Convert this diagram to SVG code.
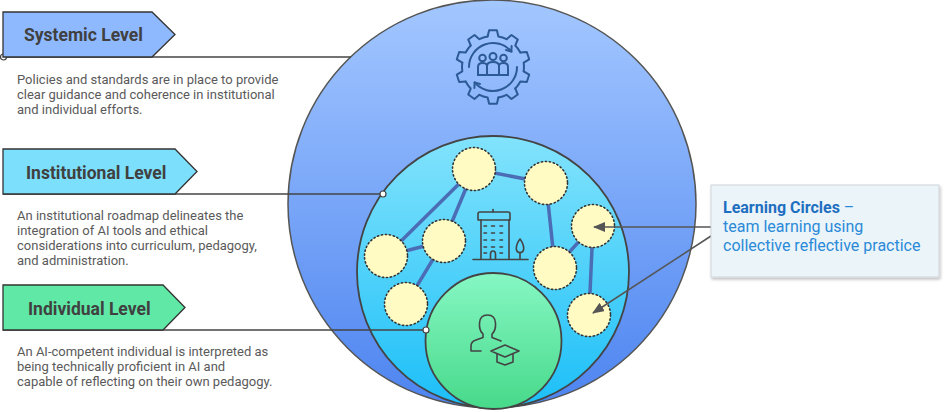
<svg xmlns="http://www.w3.org/2000/svg" xmlns:xlink="http://www.w3.org/1999/xlink" width="947" height="412" viewBox="0 0 947 412">
<defs>
<linearGradient id="gBig" x1="0" y1="0" x2="0" y2="1"><stop offset="0" stop-color="#a3c7ff"/><stop offset="1" stop-color="#4d84f0"/></linearGradient>
<linearGradient id="gMid" x1="0" y1="0" x2="0" y2="1"><stop offset="0" stop-color="#82e3fc"/><stop offset="1" stop-color="#1cbff8"/></linearGradient>
<linearGradient id="gIn" x1="0" y1="0" x2="0" y2="1"><stop offset="0" stop-color="#86f7c3"/><stop offset="1" stop-color="#47d98a"/></linearGradient>
<filter id="sh" x="-10%" y="-10%" width="125%" height="130%"><feDropShadow dx="1" dy="2" stdDeviation="1.5" flood-color="#000" flood-opacity="0.25"/></filter>
<marker id="ah" markerWidth="12" markerHeight="10" refX="11" refY="5" orient="auto" markerUnits="userSpaceOnUse"><path d="M0,0 L12,5 L0,10 Z" fill="#555"/></marker>
<path id="tooth" d="M-5.38,-30.53 L-3.87,-36.8 L3.87,-36.8 L5.38,-30.53 A31,31 0 0 1 13.59,-27.86"/>
</defs>
<style>
.ttl{font-family:Roboto,"Liberation Sans",sans-serif;font-weight:700;font-size:17.5px;fill:#404040}
.dsc{font-family:Roboto,"Liberation Sans",sans-serif;font-size:13px;fill:#5a5a5a}
.lbl{stroke:#333;stroke-width:1.3}
.lead{stroke:#444;stroke-width:1.3;fill:none}
.dot{fill:#fff;stroke:#444;stroke-width:1.2}
.link{stroke:#4b6db5;stroke-width:3.5;stroke-linecap:round}
.lc{fill:#fffbc2;stroke:#333;stroke-width:1.6;stroke-dasharray:1.2 2.8;stroke-linecap:round}
.ico{fill:none;stroke:#444;stroke-width:1.6;stroke-linecap:round;stroke-linejoin:round}
.gear{fill:none;stroke:#2c5a96;stroke-width:2;stroke-linecap:round;stroke-linejoin:round}
.box{font-family:Roboto,"Liberation Sans",sans-serif;font-size:16px;fill:#2a8ad8}
</style>

<g id="systemic-circle">
<circle cx="492" cy="204" r="204" fill="url(#gBig)" stroke="#555" stroke-width="1.5"/>
<g class="gear" transform="translate(493,67)">
<use xlink:href="#tooth"/>
<use xlink:href="#tooth" transform="rotate(36)"/>
<use xlink:href="#tooth" transform="rotate(72)"/>
<use xlink:href="#tooth" transform="rotate(108)"/>
<use xlink:href="#tooth" transform="rotate(144)"/>
<use xlink:href="#tooth" transform="rotate(180)"/>
<use xlink:href="#tooth" transform="rotate(216)"/>
<use xlink:href="#tooth" transform="rotate(252)"/>
<use xlink:href="#tooth" transform="rotate(288)"/>
<use xlink:href="#tooth" transform="rotate(324)"/>
<path d="M-24,0 A24,24 0 0 1 18.4,-15.4"/>
<path d="M13,-17 L18.4,-15.4 L18.6,-21"/>
<path d="M24,0 A24,24 0 0 1 -18.4,15.4"/>
<path d="M-13,17 L-18.4,15.4 L-18.6,21"/>
<circle cx="-10.5" cy="-9" r="3.3"/>
<circle cx="0" cy="-10.5" r="3.5"/>
<circle cx="10.5" cy="-9" r="3.3"/>
<path d="M-15,8 V0 Q-15,-4 -10.5,-4 Q-7,-4 -6,-2"/>
<path d="M15,8 V0 Q15,-4 10.5,-4 Q7,-4 6,-2"/>
<path d="M-6,8 V-1 Q-6,-5 0,-5 Q6,-5 6,-1 V8 Z"/>
<path d="M-15,8 H15"/>
</g>
</g>

<g id="institutional-circle">
<circle cx="493" cy="272" r="136" fill="url(#gMid)" stroke="#444" stroke-width="1.8"/>
</g>

<g id="learning-links">
<line class="link" x1="474" y1="169" x2="546" y2="183"/>
<line class="link" x1="474" y1="169" x2="386" y2="256"/>
<line class="link" x1="474" y1="169" x2="444" y2="241"/>
<line class="link" x1="444" y1="241" x2="386" y2="256"/>
<line class="link" x1="444" y1="241" x2="406" y2="304"/>
<line class="link" x1="546" y1="183" x2="555" y2="268"/>
<line class="link" x1="555" y1="268" x2="593" y2="226"/>
<line class="link" x1="593" y1="226" x2="589" y2="315"/>
</g>

<g id="learning-circle-1"><circle class="lc" cx="474" cy="169" r="21.5"/></g>
<g id="learning-circle-2"><circle class="lc" cx="546" cy="183" r="21.5"/></g>
<g id="learning-circle-3"><circle class="lc" cx="593" cy="226" r="21.5"/></g>
<g id="learning-circle-4"><circle class="lc" cx="444" cy="241" r="21.5"/></g>
<g id="learning-circle-5"><circle class="lc" cx="386" cy="256" r="21.5"/></g>
<g id="learning-circle-6"><circle class="lc" cx="406" cy="304" r="21.5"/></g>
<g id="learning-circle-7"><circle class="lc" cx="555" cy="268" r="21.5"/></g>
<g id="learning-circle-8"><circle class="lc" cx="589" cy="315" r="21.5"/></g>

<g id="building-icon" class="ico">
<path d="M478,220 V214 Q478,212 480,212 H508 Q510,212 510,214 V220 Z"/>
<path d="M493,212 V209.5"/>
<path d="M481,220 V259 M509,220 V259"/>
<path d="M473,259.5 H528"/>
<path d="M484,226 h2.5 M491.5,226 h3 M500,226 h2.5 M484,233 h2.5 M491.5,233 h3 M500,233 h2.5 M484,240 h2.5 M491.5,240 h3 M500,240 h2.5 M484,247 h2.5 M491.5,247 h3 M500,247 h2.5 M484,253 h2.5 M500,253 h2.5"/>
<path d="M490.5,259 V254 Q490.5,251 493,251 Q495.5,251 495.5,254 V259"/>
<path d="M520,239 Q524.5,245 523.5,250 Q523,252.5 520,252.5 Q517,252.5 516.5,250 Q515.5,245 520,239 Z M520,252.5 V259"/>
</g>

<g id="individual-circle">
<circle cx="493.5" cy="341" r="68" fill="url(#gIn)" stroke="#444" stroke-width="1.8"/>
<g class="ico" stroke="#4a4a4a">
<path d="M481,351 H471 V346 Q471,341.5 476,340 L483,337.5 V334 Q479,330.5 479.5,323 Q480,315 487.5,315 Q495,315 495.5,323 Q496,330.5 492,334 V337.5 L501,341"/>
<path d="M491,351 L505,345 L519,351 L505,357 Z"/>
<path d="M497,354 V362 L505,365 L513,362 V354"/>
</g>
</g>

<g id="connectors">
<line class="lead" x1="3" y1="57" x2="351" y2="57"/>
<line class="lead" x1="3" y1="194" x2="383" y2="194"/>
<line class="lead" x1="3" y1="330" x2="426" y2="330"/>
<line stroke="#555" stroke-width="1.5" x1="711" y1="227" x2="594" y2="227" marker-end="url(#ah)"/>
<line stroke="#555" stroke-width="1.5" x1="711" y1="236" x2="593" y2="313" marker-end="url(#ah)"/>
<circle class="dot" cx="3.5" cy="57" r="3"/>
<circle class="dot" cx="383" cy="194" r="3"/>
<circle class="dot" cx="426" cy="330" r="3"/>
</g>

<g id="systemic-label">
<polygon class="lbl" points="3,12 152,12 175,34.5 152,57 3,57" fill="#8fb9ff"/>
<text class="ttl" x="24" y="41">Systemic Level</text>
<text class="dsc"><tspan x="17" y="83.5">Policies and standards are in place to provide</tspan><tspan x="17" y="98.5">clear guidance and coherence in institutional</tspan><tspan x="17" y="113.5">and individual efforts.</tspan></text>
</g>

<g id="institutional-label">
<polygon class="lbl" points="3,149 175,149 197,171.5 175,194 3,194" fill="#7cdffc"/>
<text class="ttl" x="26" y="178.5">Institutional Level</text>
<text class="dsc"><tspan x="17" y="219.5">An institutional roadmap delineates the</tspan><tspan x="17" y="234.5">integration of AI tools and ethical</tspan><tspan x="17" y="249.5">considerations into curriculum, pedagogy,</tspan><tspan x="17" y="264.5">and administration.</tspan></text>
</g>

<g id="individual-label">
<polygon class="lbl" points="3,285 163,285 185,307.5 163,330 3,330" fill="#5fe8a6"/>
<text class="ttl" x="28" y="314.5">Individual Level</text>
<text class="dsc"><tspan x="17" y="356">An AI-competent individual is interpreted as</tspan><tspan x="17" y="371">being technically proficient in AI and</tspan><tspan x="17" y="386">capable of reflecting on their own pedagogy.</tspan></text>
</g>

<g id="learning-circles-box">
<rect x="711" y="185" width="228" height="92" fill="#ebf4f9" stroke="#cfd6da" stroke-width="1" filter="url(#sh)"/>
<text class="box"><tspan x="723" y="213" font-weight="700" fill="#1f6fc0">Learning Circles</tspan><tspan> –</tspan><tspan x="723" y="232">team learning using</tspan><tspan x="723" y="251">collective reflective practice</tspan></text>
</g>
</svg>
